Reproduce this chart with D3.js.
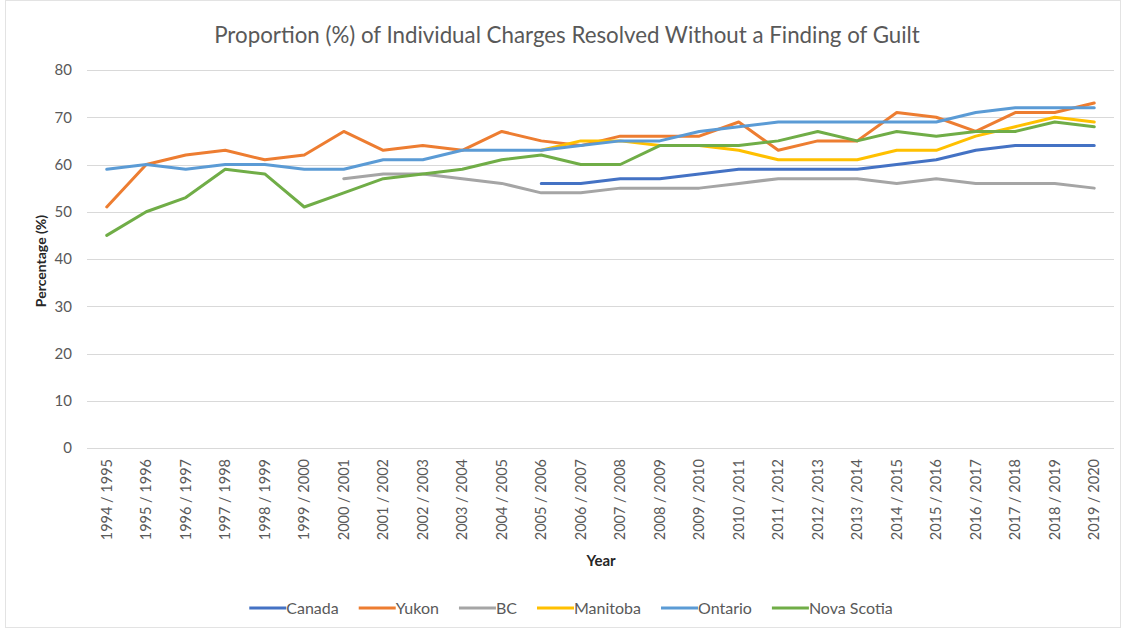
<!DOCTYPE html>
<html>
<head>
<meta charset="utf-8">
<script src="https://cdn.jsdelivr.net/npm/d3@7"></script>
<style>
  body { margin: 0; background: #fff; }
  svg { display: block; font-family: Lato, "Open Sans", sans-serif; }
</style>
</head>
<body>
<div id="chart"></div>
<script>
// DATA
const years = ["1994 / 1995","1995 / 1996","1996 / 1997","1997 / 1998","1998 / 1999","1999 / 2000",
  "2000 / 2001","2001 / 2002","2002 / 2003","2003 / 2004","2004 / 2005","2005 / 2006","2006 / 2007",
  "2007 / 2008","2008 / 2009","2009 / 2010","2010 / 2011","2011 / 2012","2012 / 2013","2013 / 2014",
  "2014 / 2015","2015 / 2016","2016 / 2017","2017 / 2018","2018 / 2019","2019 / 2020"];
const yTicks = [0, 10, 20, 30, 40, 50, 60, 70, 80];

const canada = [null,null,null,null,null,null,null,null,null,null,null,56,56,57,57,58,59,59,59,59,60,61,63,64,64,64];
const yukon = [51,60,62,63,61,62,67,63,64,63,67,65,64,66,66,66,69,63,65,65,71,70,67,71,71,73];
const bc = [null,null,null,null,null,null,57,58,58,57,56,54,54,55,55,55,56,57,57,57,56,57,56,56,56,55];
const manitoba = [null,null,null,null,null,null,null,null,null,null,null,63,65,65,64,64,63,61,61,61,63,63,66,68,70,69];
const ontario = [59,60,59,60,60,59,59,61,61,63,63,63,64,65,65,67,68,69,69,69,69,69,71,72,72,72];
const novaScotia = [45,50,53,59,58,51,54,57,58,59,61,62,60,60,64,64,64,65,67,65,67,66,67,67,69,68];

const seriesNames = ["Canada", "Yukon", "BC", "Manitoba", "Ontario", "Nova Scotia"];
const seriesColors = ["#4472C4", "#ED7D31", "#A5A5A5", "#FFC000", "#5B9BD5", "#70AD47"];
const series = [canada, yukon, bc, manitoba, ontario, novaScotia];

// LAYOUT
const width = 1126, height = 633;
const margin = { top: 70, right: 12, bottom: 185, left: 87 };

const svg = d3.select("#chart").append("svg")
  .attr("width", width)
  .attr("height", height);

svg.append("rect")
  .attr("x", 5.5).attr("y", 0.5)
  .attr("width", width - 11).attr("height", height - 6)
  .attr("fill", "#fff")
  .attr("stroke", "#e3e3e3");

const x = d3.scaleBand()
  .domain(years)
  .range([margin.left, width - margin.right]);

const y = d3.scaleLinear()
  .domain([0, 80])
  .range([height - margin.bottom, margin.top]);

// gridlines
svg.append("g")
  .selectAll("line")
  .data(yTicks)
  .join("line")
  .attr("x1", x.range()[0])
  .attr("x2", x.range()[1])
  .attr("y1", d => Math.round(y(d)) + 0.5)
  .attr("y2", d => Math.round(y(d)) + 0.5)
  .attr("stroke", "#d9d9d9")
  .attr("stroke-width", 1);

// y axis labels
const yAxis = svg.append("g")
  .attr("transform", `translate(${x.range()[0]},0)`)
  .call(d3.axisLeft(y).tickValues(yTicks).tickSize(0).tickPadding(15));
yAxis.select(".domain").remove();
yAxis.selectAll("text")
  .attr("font-size", 15)
  .attr("fill", "#595959")
  .attr("font-family", "Lato, sans-serif");

// x axis labels
const xAxis = svg.append("g")
  .attr("transform", `translate(0,${y(0)})`)
  .call(d3.axisBottom(x).tickSize(0));
xAxis.select(".domain").remove();
xAxis.selectAll("text")
  .attr("font-size", 14.5)
  .attr("fill", "#595959")
  .attr("font-family", "Lato, sans-serif")
  .attr("text-anchor", "end")
  .attr("dy", "0.35em")
  .attr("transform", "translate(0,11) rotate(-90)")
  .attr("x", 0)
  .attr("y", 0);

// lines
const line = d3.line()
  .defined(d => d != null)
  .x((d, i) => x(years[i]) + x.bandwidth() / 2)
  .y(d => y(d));

svg.append("g")
  .selectAll("path")
  .data(series)
  .join("path")
  .attr("fill", "none")
  .attr("stroke", (d, i) => seriesColors[i])
  .attr("stroke-width", 3)
  .attr("stroke-linejoin", "round")
  .attr("stroke-linecap", "round")
  .attr("d", line);

// title
svg.append("text")
  .attr("x", 567)
  .attr("y", 43)
  .attr("text-anchor", "middle")
  .attr("font-size", 22.3)
  .attr("fill", "#595959")
  .text("Proportion (%) of Individual Charges Resolved Without a Finding of Guilt");

// axis titles
svg.append("text")
  .attr("transform", `translate(46,${(y(0) + y(80)) / 2 + 2}) rotate(-90)`)
  .attr("text-anchor", "middle")
  .attr("font-size", 14)
  .attr("font-weight", "bold")
  .attr("fill", "#262626")
  .text("Percentage (%)");

svg.append("text")
  .attr("x", 601)
  .attr("y", 566)
  .attr("text-anchor", "middle")
  .attr("font-size", 15)
  .attr("font-weight", "bold")
  .attr("fill", "#262626")
  .text("Year");

// legend: centred row, swatch + label, positions follow text widths
const swatch = 37, gap = 20, legendCenter = 571;
const legend = svg.append("g").attr("transform", "translate(0,608)");
const items = legend.selectAll("g")
  .data(seriesNames)
  .join("g");
items.append("line")
  .attr("x1", 0).attr("x2", swatch)
  .attr("stroke", (d, i) => seriesColors[i])
  .attr("stroke-width", 3);
items.append("text")
  .attr("x", swatch)
  .attr("dy", "0.35em")
  .attr("font-size", 16)
  .attr("fill", "#595959")
  .text(d => d);
let cursor = 0;
const offsets = [];
items.each(function() {
  offsets.push(cursor);
  cursor += swatch + d3.select(this).select("text").node().getComputedTextLength() + gap;
});
const startX = legendCenter - (cursor - gap) / 2;
items.attr("transform", (d, i) => `translate(${startX + offsets[i]},0)`);
</script>
</body>
</html>
